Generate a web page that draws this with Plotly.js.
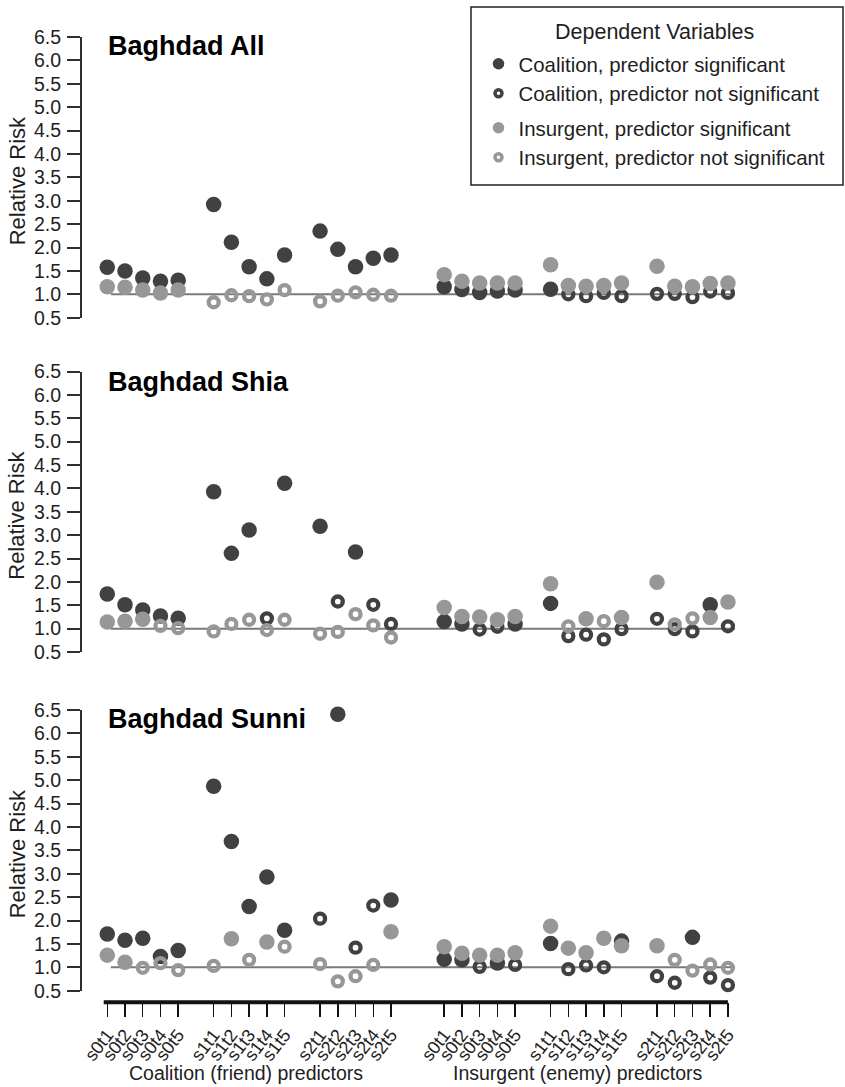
<!DOCTYPE html>
<html>
<head>
<meta charset="utf-8">
<script src="https://cdn.plot.ly/plotly-3.0.1.min.js"></script>
<style>html,body{margin:0;padding:0;background:#fff;}#chart{width:845px;height:1087px;}</style>
</head>
<body>
<div id="chart"></div>
<script>
// ---------- DATA ----------
const friendPredictors = ['s0t1','s0t2','s0t3','s0t4','s0t5','s1t1','s1t2','s1t3','s1t4','s1t5','s2t1','s2t2','s2t3','s2t4','s2t5'];
const enemyPredictors  = ['s0t1','s0t2','s0t3','s0t4','s0t5','s1t1','s1t2','s1t3','s1t4','s1t5','s2t1','s2t2','s2t3','s2t4','s2t5'];
const groupTitles = ['Coalition (friend) predictors', 'Insurgent (enemy) predictors'];
const panelTitles = ['Baghdad All', 'Baghdad Shia', 'Baghdad Sunni'];
const legendTitle = 'Dependent Variables';
const legendNames = ['Coalition, predictor significant','Coalition, predictor not significant','Insurgent, predictor significant','Insurgent, predictor not significant'];

// Baghdad All
const allCoalition    = [1.58,1.50,1.35,1.28,1.30, 2.92,2.11,1.59,1.33,1.84, 2.35,1.96,1.59,1.77,1.84,
                         1.16,1.10,1.04,1.07,1.09, 1.11,1.00,0.96,1.03,0.96, 1.01,1.01,0.94,1.06,1.03];
const allCoalitionSig = [1,1,1,1,1, 1,1,1,1,1, 1,1,1,1,1,
                         1,1,1,1,1, 1,0,0,0,0, 0,0,0,0,0];
const allInsurgent    = [1.16,1.15,1.09,1.03,1.09, 0.83,0.98,0.96,0.89,1.09, 0.85,0.97,1.04,0.99,0.97,
                         1.42,1.28,1.24,1.24,1.24, 1.63,1.19,1.17,1.19,1.24, 1.60,1.17,1.16,1.23,1.24];
const allInsurgentSig = [1,1,1,1,1, 0,0,0,0,0, 0,0,0,0,0,
                         1,1,1,1,1, 1,1,1,1,1, 1,1,1,1,1];

// Baghdad Shia
const shiaCoalition    = [1.74,1.51,1.40,1.27,1.22, 3.93,2.61,3.11,1.22,4.11, 3.19,1.58,2.64,1.51,1.10,
                          1.15,1.10,0.98,1.04,1.10, 1.54,0.84,0.87,0.77,0.99, 1.21,0.99,0.94,1.51,1.05];
const shiaCoalitionSig = [1,1,1,1,1, 1,1,1,0,1, 1,0,1,0,0,
                          1,1,0,0,1, 1,0,0,0,0, 0,0,0,1,0];
const shiaInsurgent    = [1.14,1.16,1.20,1.06,1.01, 0.94,1.10,1.19,0.97,1.19, 0.89,0.93,1.31,1.07,0.81,
                          1.45,1.26,1.25,1.19,1.26, 1.96,1.05,1.21,1.16,1.24, 1.99,1.09,1.22,1.24,1.57];
const shiaInsurgentSig = [1,1,1,0,0, 0,0,0,0,0, 0,0,0,0,0,
                          1,1,1,1,1, 1,0,1,0,1, 1,0,0,1,1];

// Baghdad Sunni
const sunniCoalition    = [1.71,1.58,1.62,1.23,1.36, 4.87,3.69,2.30,2.93,1.79, 2.04,6.41,1.42,2.32,2.44,
                           1.17,1.16,1.01,1.09,1.05, 1.51,0.96,1.04,1.00,1.56, 0.81,0.67,1.64,0.78,0.62];
const sunniCoalitionSig = [1,1,1,1,1, 1,1,1,1,1, 0,1,0,0,1,
                           1,1,0,1,0, 1,0,0,0,1, 0,0,1,0,0];
const sunniInsurgent    = [1.26,1.11,0.99,1.09,0.94, 1.03,1.61,1.16,1.54,1.44, 1.07,0.70,0.81,1.05,1.76,
                           1.44,1.30,1.26,1.26,1.31, 1.88,1.41,1.31,1.62,1.46, 1.46,1.16,0.93,1.06,0.99];
const sunniInsurgentSig = [1,1,0,0,0, 0,1,0,1,0, 0,0,0,0,1,
                           1,1,1,1,1, 1,1,1,1,1, 1,0,0,0,0];

const yTickValues = [0.5,1.0,1.5,2.0,2.5,3.0,3.5,4.0,4.5,5.0,5.5,6.0,6.5];

// ---------- LAYOUT HELPERS ----------
const W = 845, H = 1087;
const FONT = 'Liberation Sans, Arial, Helvetica, sans-serif';
const DARK = '#414141', LIGHT = '#979797', INK = '#1e1e1e';
const tickLabels = friendPredictors.concat(enemyPredictors);
// x position: 5 predictors per block, one empty slot between blocks, two between the friend and enemy halves
const xPos = tickLabels.map((_, i) => { const g = Math.floor(i / 5); return g * 6 + (i % 5) + (g >= 3 ? 1 : 0); });

const px = v => v / W;           // pixel x -> paper
const py = v => 1 - v / H;       // pixel y (from top) -> paper

const panels = [
  {name: panelTitles[0], coal: allCoalition, coalSig: allCoalitionSig, ins: allInsurgent, insSig: allInsurgentSig, top: 36.9, bottom: 317.7, yaxis: 'y',  titleY: 45.8},
  {name: panelTitles[1], coal: shiaCoalition, coalSig: shiaCoalitionSig, ins: shiaInsurgent, insSig: shiaInsurgentSig, top: 371.5, bottom: 652.0, yaxis: 'y2', titleY: 381},
  {name: panelTitles[2], coal: sunniCoalition, coalSig: sunniCoalitionSig, ins: sunniInsurgent, insSig: sunniInsurgentSig, top: 710.0, bottom: 990.7, yaxis: 'y3', titleY: 718.7}
];

function pick(vals, sig, want) {
  const x = [], y = [];
  vals.forEach((v, i) => { if (sig[i] === want) { x.push(xPos[i]); y.push(v); } });
  return {x, y};
}

const filledMarker = c => ({symbol: 'circle', size: 15.5, color: c, line: {width: 0}});
const openMarker = c => ({symbol: 'circle-open', size: 10, color: c, line: {width: 4.3, color: c}});

const traces = [];
// legend entries
[[filledMarker, DARK, 'coal'], [openMarker, DARK, 'coal'], [filledMarker, LIGHT, 'ins'], [openMarker, LIGHT, 'ins']].forEach((d, k) => {
  const m = d[0](d[1]);
  if (m.symbol === 'circle') m.size = 11.5; else { m.size = 7; m.line.width = 3.5; }
  traces.push({type: 'scatter', mode: 'markers', x: [null], y: [null], name: legendNames[k], legendgroup: d[2],
               marker: m, showlegend: true, hoverinfo: 'skip', xaxis: 'x', yaxis: 'y'});
});

panels.forEach(p => {
  const sets = [
    [pick(p.coal, p.coalSig, 1), filledMarker(DARK)],
    [pick(p.coal, p.coalSig, 0), openMarker(DARK)],
    [pick(p.ins, p.insSig, 1), filledMarker(LIGHT)],
    [pick(p.ins, p.insSig, 0), openMarker(LIGHT)]
  ];
  sets.forEach(s => {
    traces.push({type: 'scatter', mode: 'markers', x: s[0].x, y: s[0].y, marker: s[1], cliponaxis: false,
                 showlegend: false, hoverinfo: 'skip', xaxis: 'x', yaxis: p.yaxis});
  });
});

const yAxisBase = (p) => ({
  domain: [py(p.bottom), py(p.top)], range: [0.5, 6.5], anchor: 'free', position: px(81),
  showline: true, linecolor: '#2e2e2e', linewidth: 2, ticks: 'outside', ticklen: 13, tickwidth: 2, tickcolor: '#2e2e2e',
  tickvals: yTickValues, ticktext: yTickValues.map(v => v.toFixed(1)), tickfont: {family: FONT, size: 19.5, color: INK},
  ticklabelstandoff: 2, showgrid: false, zeroline: false, fixedrange: true
});

const shapes = [];
panels.forEach(p => {
  shapes.push({type: 'line', xref: 'x', yref: p.yaxis, x0: 0.2, x1: 35.4, y0: 1, y1: 1, layer: 'below',
               line: {color: '#7a7a7a', width: 2}});
});
// thick bottom axis line
shapes.push({type: 'line', xref: 'x', yref: 'paper', x0: -0.2, x1: 35, y0: py(1002.3), y1: py(1002.3),
             line: {color: '#111', width: 4}});
// legend frame
shapes.push({type: 'rect', xref: 'paper', yref: 'paper', x0: px(471), x1: px(843), y0: py(185), y1: py(7),
             line: {color: '#222', width: 1.5}, fillcolor: 'rgba(0,0,0,0)'});

const annotations = [];
panels.forEach(p => {
  annotations.push({text: '<b>' + p.name + '</b>', xref: 'paper', yref: 'paper', x: px(106), y: py(p.titleY + 0.5),
                    xanchor: 'left', yanchor: 'middle', showarrow: false, font: {family: FONT, size: 27, color: '#000'}});
  annotations.push({text: 'Relative Risk', xref: 'paper', yref: 'paper', x: px(17), y: py((p.top + p.bottom) / 2 + 4),
                    xanchor: 'center', yanchor: 'middle', textangle: -90, showarrow: false, font: {family: FONT, size: 22, color: INK}});
});
annotations.push({text: groupTitles[0], xref: 'paper', yref: 'paper', x: px(245.5), y: py(1073), xanchor: 'center', yanchor: 'middle',
                  showarrow: false, font: {family: FONT, size: 19.5, color: INK}});
annotations.push({text: groupTitles[1], xref: 'paper', yref: 'paper', x: px(577.5), y: py(1073), xanchor: 'center', yanchor: 'middle',
                  showarrow: false, font: {family: FONT, size: 19.5, color: INK}});
annotations.push({text: legendTitle, xref: 'paper', yref: 'paper', x: px(654), y: py(32), xanchor: 'center', yanchor: 'middle',
                  showarrow: false, font: {family: FONT, size: 21.5, color: INK}});

const layout = {
  width: W, height: H, margin: {l: 0, r: 0, t: 0, b: 0}, paper_bgcolor: '#fff', plot_bgcolor: 'rgba(0,0,0,0)',
  font: {family: FONT, color: INK},
  xaxis: {domain: [px(98.4), px(736.8)], range: [-0.5, 35.5], anchor: 'free', position: py(1002.3),
          showline: false, showgrid: false, zeroline: false, ticks: 'outside', ticklen: 14, tickwidth: 1.5, tickcolor: '#111',
          tickvals: xPos, ticktext: tickLabels, tickangle: -52, tickfont: {family: FONT, size: 18, color: INK}, fixedrange: true},
  yaxis: yAxisBase(panels[0]),
  yaxis2: yAxisBase(panels[1]),
  yaxis3: yAxisBase(panels[2]),
  showlegend: true,
  legend: {x: px(478.5), y: py(44), xanchor: 'left', yanchor: 'top', bgcolor: 'rgba(0,0,0,0)', borderwidth: 0,
           font: {family: FONT, size: 20.4, color: INK}, tracegroupgap: 5, traceorder: 'grouped'},
  shapes: shapes,
  annotations: annotations
};

Plotly.newPlot('chart', traces, layout, {displayModeBar: false, staticPlot: true});
</script>
</body>
</html>
